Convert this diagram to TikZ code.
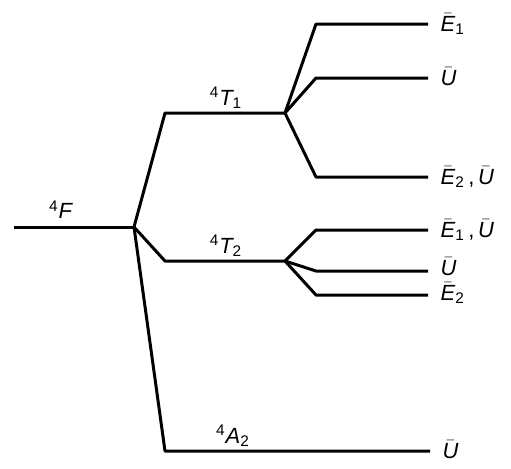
\documentclass[tikz,border=0pt]{standalone}
\usepackage{amsmath}
\usepackage{fontspec}
\setmainfont{Liberation Sans}
\usetikzlibrary{positioning}

\newcommand{\irr}[2]{$\bar{\textit{#1}}_{\text{#2}}$}
\newcommand{\term}[2]{$^{\text{4}}\textit{#1}_{\text{#2}}$}

\begin{document}
\begin{tikzpicture}[x=0.02cm, y=-0.02cm,
  level/.style={line width=1.7pt, line join=round},
  lab/.style={inner sep=1pt, font=\fontsize{12.5}{14}\selectfont},
  irrep/.style={lab, anchor=west}]
  \useasboundingbox (0,0) rectangle (511,468);
  % splitting points
  \coordinate (F0) at (14,227);
  \coordinate (B0) at (134,227);
  \coordinate (T1a) at (165,113);
  \coordinate (T1b) at (285,113);
  \coordinate (T2a) at (165,261);
  \coordinate (T2b) at (285,261);
  \coordinate (A2a) at (165,451);
  \coordinate (A2b) at (430,451);
  % free ion and cubic field
  \draw[level] (F0) -- (B0);
  \draw[level] (B0) -- (T1a) -- (T1b);
  \draw[level] (B0) -- (T2a) -- (T2b);
  \draw[level] (B0) -- (A2a) -- (A2b);
  \node[lab, anchor=south] (nF) at (61,224) {\term{F}{}};
  \node[lab, anchor=south] (nT1) at (226,111) {\term{T}{1}};
  \node[lab, anchor=south] (nT2) at (226,259) {\term{T}{2}};
  \node[lab, anchor=south] (nA2) at (233,449) {\term{A}{2}};
  % spin-orbit levels of 4T1
  \draw[level] (T1b) -- (316,24) -- (428,24) coordinate (e1);
  \draw[level] (T1b) -- (316,78) -- (428,78) coordinate (e2);
  \draw[level] (T1b) -- (316,177) -- (428,177) coordinate (e3);
  % spin-orbit levels of 4T2
  \draw[level] (T2b) -- (316,230) -- (428,230) coordinate (e4);
  \draw[level] (T2b) -- (316,271) -- (428,271) coordinate (e5);
  \draw[level] (T2b) -- (316,295) -- (428,295) coordinate (e6);
  \node[irrep, right=6pt of e1] (l1) {\irr{E}{1}};
  \node[irrep, right=6pt of e2] (l2) {\irr{U}{}};
  \node[irrep, right=6pt of e3] (l3) {\irr{E}{2}\,,\,\irr{U}{}};
  \node[irrep, right=6pt of e4] (l4) {\irr{E}{1}\,,\,\irr{U}{}};
  \node[irrep, right=6pt of e5, yshift=1.5pt] (l5) {\irr{U}{}};
  \node[irrep, right=6pt of e6, yshift=1pt] (l6) {\irr{E}{2}};
  \node[irrep, right=6pt of A2b] (l7) {\irr{U}{}};
\end{tikzpicture}
\end{document}
